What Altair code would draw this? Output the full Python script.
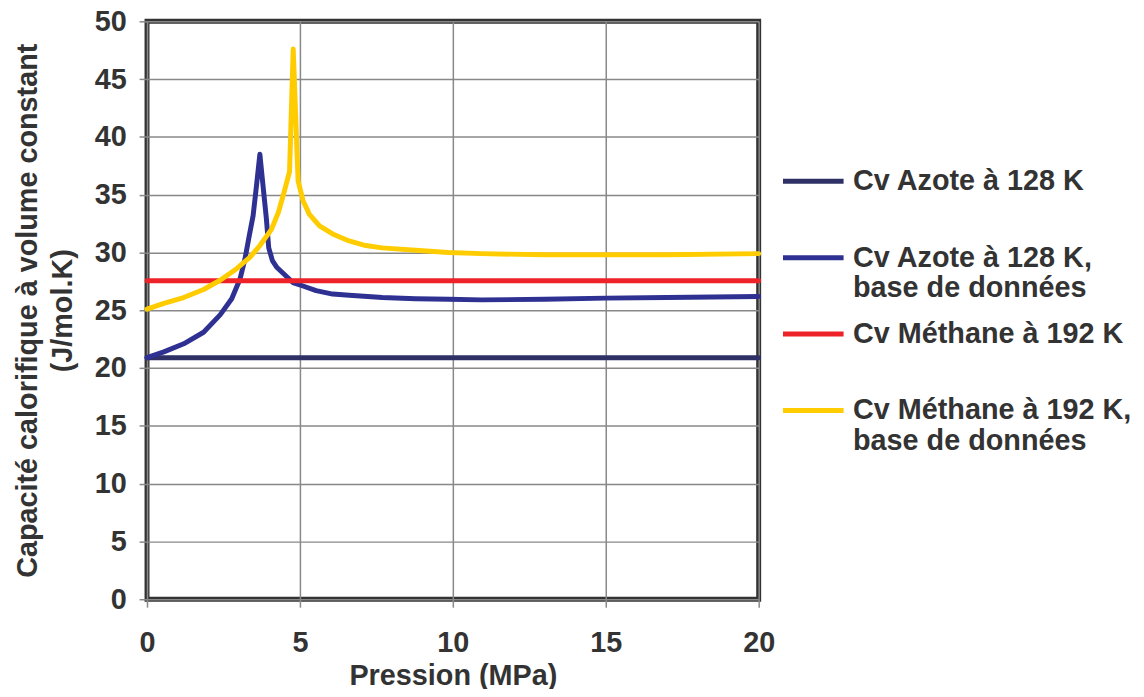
import altair as alt
import pandas as pd

# --- data ---
p_azote_db = [0.0, 0.55, 1.2, 1.85, 2.39, 2.77, 3.04, 3.2, 3.34, 3.47, 3.58, 3.69, 3.8, 3.9, 3.98, 4.1, 4.25, 4.45, 4.77, 5.1, 5.53, 6.07, 6.61, 7.69, 8.78, 9.86, 10.94, 13.0, 15.0, 17.0, 20.0]
cv_azote_db = [20.9, 21.4, 22.1, 23.1, 24.6, 26.0, 27.7, 29.4, 31.4, 33.2, 35.8, 38.5, 35.6, 33.0, 30.4, 29.3, 28.7, 28.2, 27.4, 27.1, 26.7, 26.4, 26.3, 26.1, 26.0, 25.95, 25.9, 25.95, 26.05, 26.1, 26.2]

p_methane_db = [0.0, 0.55, 1.2, 1.85, 2.39, 2.93, 3.37, 3.69, 4.07, 4.3, 4.5, 4.66, 4.78, 4.94, 5.1, 5.31, 5.64, 6.07, 6.61, 7.15, 7.69, 8.78, 9.86, 10.94, 13.0, 15.0, 17.0, 20.0]
cv_methane_db = [25.1, 25.6, 26.1, 26.8, 27.6, 28.6, 29.6, 30.6, 32.0, 33.5, 35.4, 37.0, 47.6, 36.2, 34.5, 33.3, 32.3, 31.6, 31.0, 30.6, 30.4, 30.2, 30.0, 29.9, 29.8, 29.8, 29.8, 29.9]

p_const = [0.0, 20.0]
cv_azote_const = [20.9, 20.9]
cv_methane_const = [27.55, 27.55]

series_names = [
    "Cv Azote à 128 K",
    "Cv Azote à 128 K,|base de données",
    "Cv Méthane à 192 K",
    "Cv Méthane à 192 K,|base de données",
]
series_colors = ["#2E3066", "#2E3192", "#EE2229", "#FFCC00"]

frames = []
for name, px, py in [
    (series_names[0], p_const, cv_azote_const),
    (series_names[1], p_azote_db, cv_azote_db),
    (series_names[2], p_const, cv_methane_const),
    (series_names[3], p_methane_db, cv_methane_db),
]:
    frames.append(pd.DataFrame({"p": px, "cv": py, "serie": name}))
df = pd.concat(frames, ignore_index=True)

FONT = "Liberation Sans"
TXT = "#333333"

chart = (
    alt.Chart(df)
    .mark_line(strokeWidth=5, strokeCap="round", strokeJoin="round")
    .encode(
        x=alt.X(
            "p:Q",
            scale=alt.Scale(domain=[0, 20], nice=False),
            axis=alt.Axis(
                values=[0, 5, 10, 15, 20],
                title="Pression (MPa)",
                titleY=63,
                titleBaseline="top",
                labelPadding=22,
                labelFlush=False,
            ),
        ),
        y=alt.Y(
            "cv:Q",
            scale=alt.Scale(domain=[0, 50], nice=False),
            axis=alt.Axis(
                values=[0, 5, 10, 15, 20, 25, 30, 35, 40, 45, 50],
                title=["Capacité calorifique à volume constant", "(J/mol.K)"],
                titleAngle=270,
                titleX=-134,
                titleY=291,
                titleAlign="center",
                titleBaseline="top",
                titleLineHeight=35,
                labelPadding=13,
                labelFlush=False,
            ),
        ),
        color=alt.Color(
            "serie:N",
            scale=alt.Scale(domain=series_names, range=series_colors),
            legend=alt.Legend(
                title=None,
                orient="none",
                legendX=638,
                legendY=146,
                padding=0,
                symbolType="stroke",
                symbolSize=3721,
                symbolStrokeWidth=5,
                labelExpr="split(datum.label, '|')",
                labelFont=FONT,
                labelFontSize=29,
                labelFontWeight="bold",
                labelColor=TXT,
                labelOffset=7,
                labelBaseline="middle",
                labelLimit=400,
                clipHeight=30,
                gridAlign="all",
                rowPadding=16,
            ),
        ),
        detail="serie:N",
    )
    .properties(
        width=616,
        height=582,
        autosize=alt.AutoSizeParams(type="none"),
        padding={"left": 140, "top": 11, "right": 380, "bottom": 88},
    )
    .configure_view(stroke="#333333", strokeWidth=5)
    .configure_axis(
        domain=False,
        grid=True,
        gridColor="#888888",
        gridWidth=1.5,
        tickColor="#888888",
        tickWidth=1.5,
        tickSize=8,
        labelFont=FONT,
        labelFontSize=29,
        labelFontWeight="bold",
        labelColor=TXT,
        titleFont=FONT,
        titleFontSize=29,
        titleFontWeight="bold",
        titleColor=TXT,
    )
)

chart.save("out.html", embed_options={"renderer": "svg", "actions": False})
